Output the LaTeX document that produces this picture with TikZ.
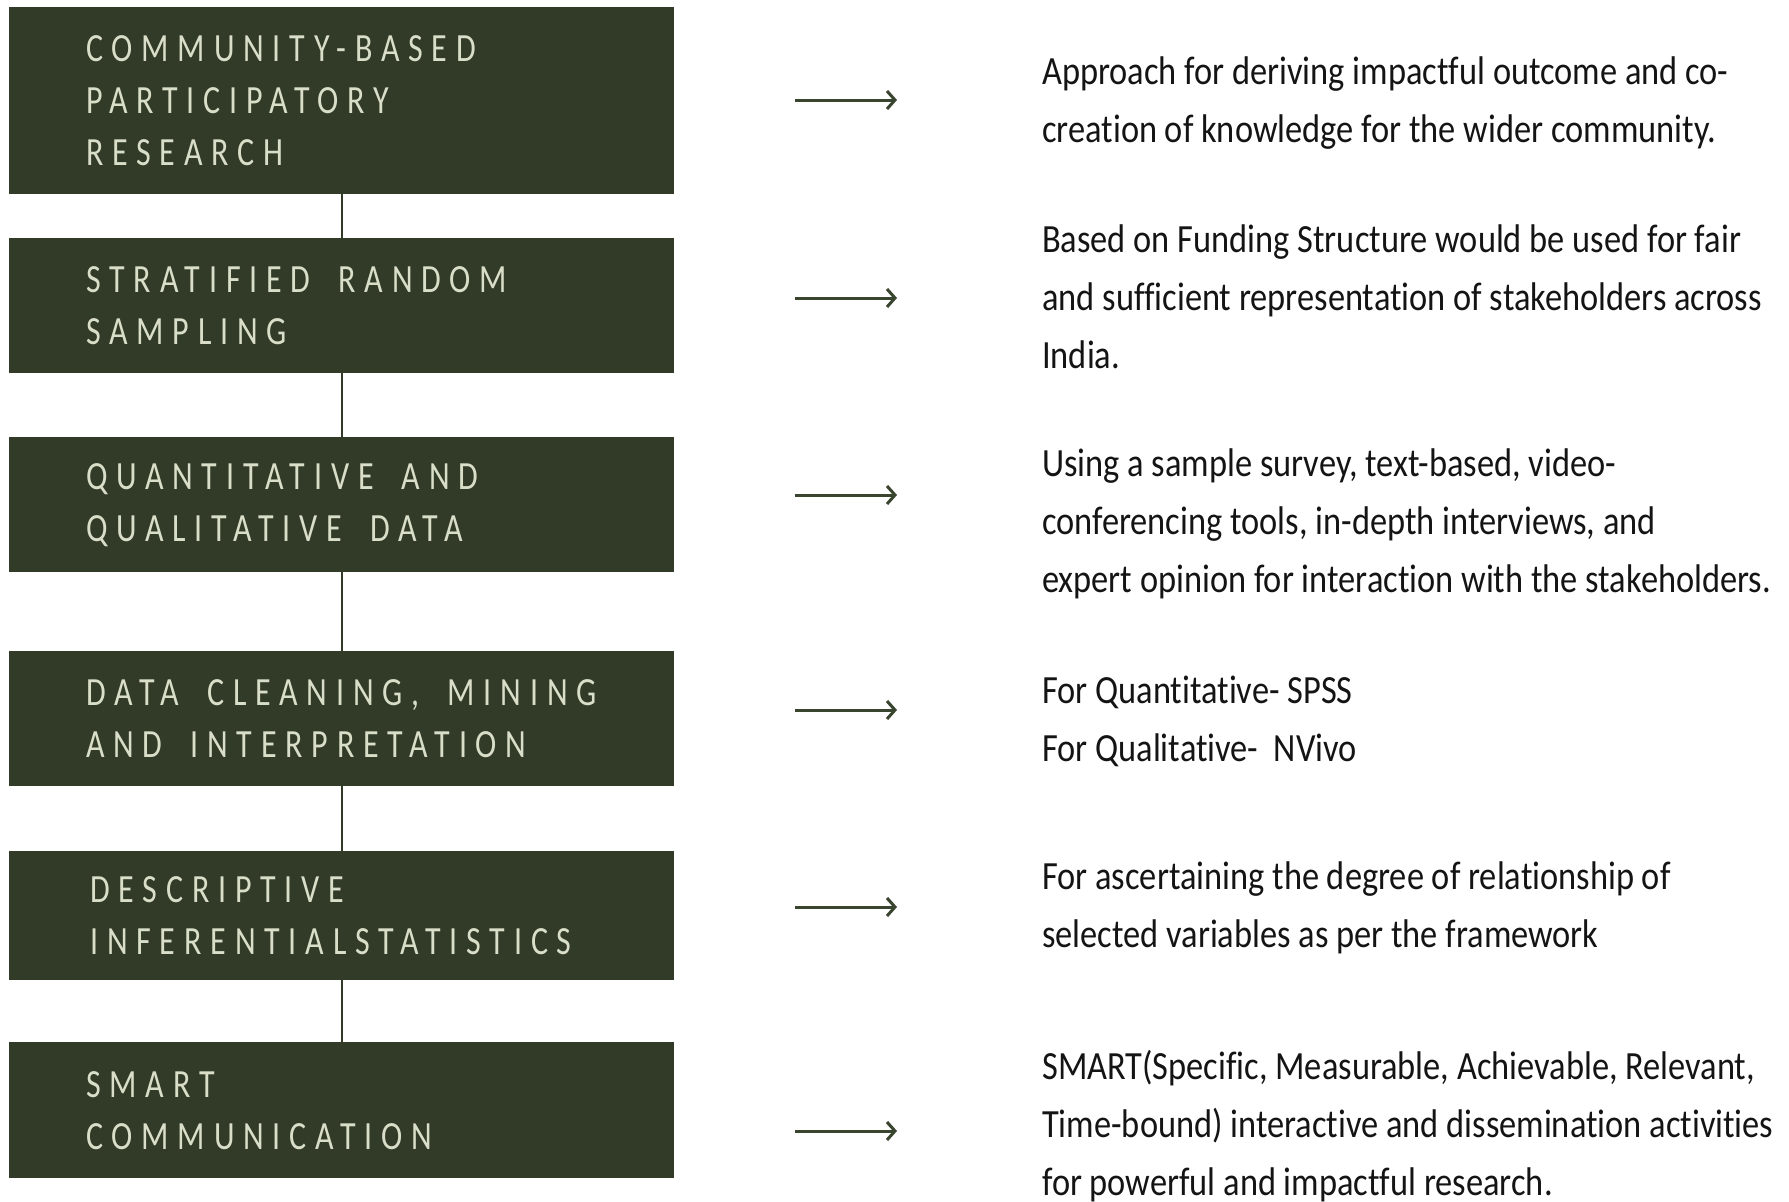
\documentclass[tikz,border=0pt]{standalone}
\usepackage{fontspec}
\usetikzlibrary{arrows.meta}
\setmainfont{Carlito}
\newfontfamily\boxfont[FakeStretch=0.8,LetterSpace=22]{Carlito}
\newfontfamily\descfont[FakeStretch=0.86,Ligatures=NoCommon]{Carlito}
\newcommand{\blanc}{\hspace{28pt}}
\definecolor{boxgreen}{HTML}{323A28}
\definecolor{boxtext}{HTML}{D9DEC8}
\definecolor{arrowgreen}{HTML}{3A4530}
\definecolor{desctext}{HTML}{141414}

\begin{document}
\begin{tikzpicture}[x=1pt,y=-1pt]
\tikzstyle{etape} = [fill=boxgreen, text=boxtext, anchor=north west, minimum width=665pt, text width=511pt, inner xsep=77pt, align=left, font=\boxfont\fontsize{40}{52}\selectfont];
\tikzstyle{desc} = [anchor=west, align=left, inner sep=0pt, text=desctext, font=\descfont\fontsize{40}{58}\selectfont];
\tikzstyle{lien} = [draw=boxgreen, line width=2pt];
\tikzstyle{fleche} = [-{Straight Barb[length=8pt,width=18pt]}, draw=arrowgreen, line width=3pt];
\useasboundingbox (0,0) rectangle (1789,1202);

\node[etape, minimum height=187pt] (cbpr) at (9,7) {COMMUNITY-BASED\\PARTICIPATORY\\RESEARCH};
\node[etape, minimum height=135pt] (srs) at (9,238) {STRATIFIED\blanc RANDOM\\SAMPLING};
\node[etape, minimum height=135pt] (qqd) at (9,437) {QUANTITATIVE\blanc AND\\QUALITATIVE\blanc DATA};
\node[etape, minimum height=135pt] (dcm) at (9,651) {DATA\blanc CLEANING,\blanc MINING\\AND\blanc INTERPRETATION};
\node[etape, minimum height=129pt] (dis) at (9,851) {\hspace*{4pt}DESCRIPTIVE\\\hspace*{4pt}INFERENTIALSTATISTICS};
\node[etape, minimum height=136pt] (smc) at (9,1042) {SMART\\COMMUNICATION};

\draw[lien] (cbpr) -- (srs);
\draw[lien] (srs) -- (qqd);
\draw[lien] (qqd) -- (dcm);
\draw[lien] (dcm) -- (dis);
\draw[lien] (dis) -- (smc);

\node[desc] (t1) at (1042,103) {Approach for deriving impactful outcome and co-\\creation of knowledge for the wider community.};
\node[desc] (t2) at (1042,297) {Based on Funding Structure would be used for fair\\and sufficient representation of stakeholders across\\India.};
\node[desc] (t3) at (1042,524) {Using a sample survey, text-based, video-\\conferencing tools, in-depth interviews, and\\expert opinion for interaction with the stakeholders.};
\node[desc] (t4) at (1042,721) {For Quantitative- SPSS\\For Qualitative-\ \ NVivo};
\node[desc] (t5) at (1042,908) {For ascertaining the degree of relationship of\\selected variables as per the framework};
\node[desc] (t6) at (1042,1126) {SMART(Specific, Measurable, Achievable, Relevant,\\Time-bound) interactive and dissemination activities\\for powerful and impactful research.};

% arrows
\coordinate (f1) at (795,100); \coordinate (g1) at (897,100);
\coordinate (f2) at (795,298); \coordinate (g2) at (897,298);
\coordinate (f3) at (795,495); \coordinate (g3) at (897,495);
\coordinate (f4) at (795,710); \coordinate (g4) at (897,710);
\coordinate (f5) at (795,907); \coordinate (g5) at (897,907);
\coordinate (f6) at (795,1131); \coordinate (g6) at (897,1131);
\draw[fleche] (f1) -- (g1);
\draw[fleche] (f2) -- (g2);
\draw[fleche] (f3) -- (g3);
\draw[fleche] (f4) -- (g4);
\draw[fleche] (f5) -- (g5);
\draw[fleche] (f6) -- (g6);
\end{tikzpicture}
\end{document}
